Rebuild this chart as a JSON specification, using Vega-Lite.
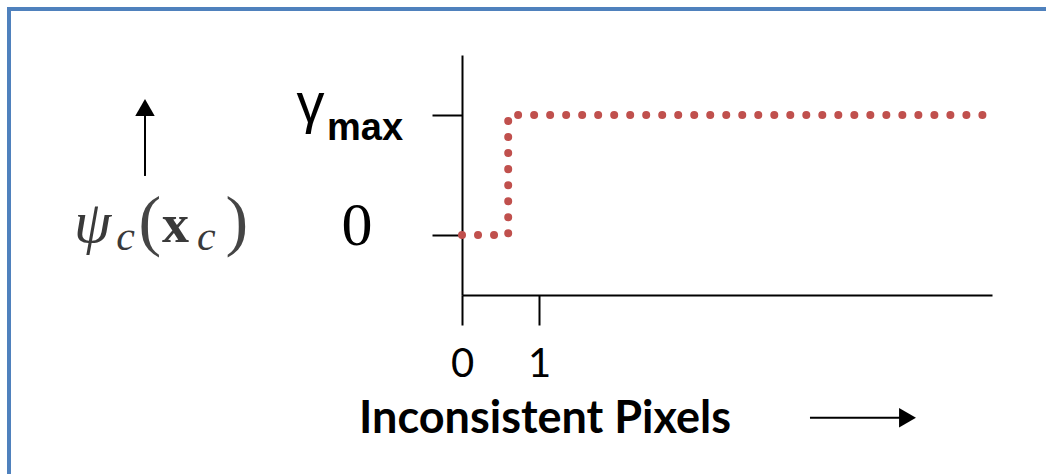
{
  "$schema": "https://vega.github.io/schema/vega-lite/v6.json",
  "width": 530,
  "height": 240,
  "autosize": "none",
  "padding": {"left": 462, "top": 55, "right": 54, "bottom": 179},
  "background": "white",
  "config": {"view": {"stroke": null}},
  "data": {"values": [{}]},
  "layer": [
    {
      "data": {"values": [
        {"pixels": 0, "psi": 0},
        {"pixels": 0.6, "psi": 1},
        {"pixels": 6.883, "psi": 1}
      ]},
      "mark": {"type": "line", "interpolate": "step-after", "color": "#C0504D", "strokeWidth": 8, "strokeDash": [0.01, 16], "strokeCap": "round"},
      "encoding": {
        "x": {
          "field": "pixels", "type": "quantitative",
          "scale": {"domain": [0, 6.883], "nice": false, "zero": false},
          "axis": {
            "values": [0, 1], "format": "d", "title": null, "grid": false,
            "domainColor": "black", "domainWidth": 2,
            "tickColor": "black", "tickWidth": 2, "tickSize": 30,
            "labelFont": "Lato", "labelFontSize": 40, "labelColor": "black",
            "labelPadding": 19, "labelFlush": false, "labelOverlap": false
          }
        },
        "y": {
          "field": "psi", "type": "quantitative",
          "scale": {"domain": [-0.5, 1.5], "nice": false, "zero": false},
          "axis": {
            "values": [0, 1], "labels": false, "title": null, "grid": false,
            "domainColor": "black", "domainWidth": 2,
            "tickColor": "black", "tickWidth": 2, "tickSize": 30
          }
        }
      }
    },
    {
      "mark": {"type": "rect", "fill": null, "stroke": "#4F81BD", "strokeWidth": 4, "clip": false},
      "encoding": {
        "x": {"datum": -5.883, "type": "quantitative"},
        "x2": {"datum": 7.77},
        "y": {"datum": 1.883, "type": "quantitative"},
        "y2": {"datum": -2.2}
      }
    },
    {
      "mark": {"type": "rule", "color": "black", "strokeWidth": 2},
      "encoding": {
        "x": {"datum": -4.117, "type": "quantitative"},
        "y": {"datum": 0.492, "type": "quantitative"},
        "y2": {"datum": 1.0}
      }
    },
    {
      "mark": {"type": "point", "shape": "triangle-up", "filled": true, "color": "black", "size": 380, "opacity": 1},
      "encoding": {
        "x": {"datum": -4.117, "type": "quantitative"},
        "y": {"datum": 1.0625, "type": "quantitative"}
      }
    },
    {
      "mark": {"type": "rule", "color": "black", "strokeWidth": 2},
      "encoding": {
        "x": {"datum": 4.519, "type": "quantitative"},
        "x2": {"datum": 5.714},
        "y": {"datum": -1.5225, "type": "quantitative"}
      }
    },
    {
      "mark": {"type": "point", "shape": "triangle-right", "filled": true, "color": "black", "size": 380, "opacity": 1},
      "encoding": {
        "x": {"datum": 5.786, "type": "quantitative"},
        "y": {"datum": -1.5225, "type": "quantitative"}
      }
    },
    {
      "mark": {"type": "text", "text": "Inconsistent Pixels", "font": "Lato", "fontWeight": "bold", "fontSize": 45, "color": "black", "align": "center", "baseline": "alphabetic"},
      "encoding": {
        "x": {"datum": 1.078, "type": "quantitative"},
        "y": {"datum": -1.65, "type": "quantitative"}
      }
    },
    {
      "mark": {"type": "text", "text": "0", "font": "Liberation Serif", "fontSize": 62, "color": "black", "align": "center", "baseline": "alphabetic"},
      "encoding": {
        "x": {"datum": -1.364, "type": "quantitative"},
        "y": {"datum": -0.083, "type": "quantitative"}
      }
    },
    {
      "mark": {"type": "text", "text": "γ", "font": "Liberation Sans", "fontSize": 56, "color": "black", "align": "left", "baseline": "alphabetic"},
      "encoding": {
        "x": {"datum": -2.15, "type": "quantitative"},
        "y": {"datum": 0.942, "type": "quantitative"}
      }
    },
    {
      "mark": {"type": "text", "text": "max", "font": "Liberation Sans Narrow, Liberation Sans", "fontWeight": "bold", "fontSize": 38, "color": "black", "align": "left", "baseline": "alphabetic"},
      "encoding": {
        "x": {"datum": -1.753, "type": "quantitative"},
        "y": {"datum": 0.792, "type": "quantitative"}
      }
    },
    {
      "mark": {"type": "text", "text": "ψ", "font": "Liberation Serif", "fontStyle": "italic", "fontSize": 60, "color": "#3a3a3a", "align": "left", "baseline": "alphabetic"},
      "encoding": {
        "x": {"datum": -5.04, "type": "quantitative"},
        "y": {"datum": -0.058, "type": "quantitative"}
      }
    },
    {
      "mark": {"type": "text", "text": "c", "font": "Liberation Serif", "fontStyle": "italic", "fontSize": 42, "color": "#3a3a3a", "align": "left", "baseline": "alphabetic"},
      "encoding": {
        "x": {"datum": -4.49, "type": "quantitative"},
        "y": {"datum": -0.125, "type": "quantitative"}
      }
    },
    {
      "mark": {"type": "text", "text": "(", "font": "Liberation Serif", "fontSize": 68, "color": "#454545", "align": "left", "baseline": "alphabetic"},
      "encoding": {
        "x": {"datum": -4.2, "type": "quantitative"},
        "y": {"datum": -0.07, "type": "quantitative"}
      }
    },
    {
      "mark": {"type": "text", "text": "x", "font": "Liberation Serif", "fontWeight": "bold", "fontSize": 54, "color": "#3a3a3a", "align": "left", "baseline": "alphabetic"},
      "encoding": {
        "x": {"datum": -3.895, "type": "quantitative"},
        "y": {"datum": -0.058, "type": "quantitative"}
      }
    },
    {
      "mark": {"type": "text", "text": "c", "font": "Liberation Serif", "fontStyle": "italic", "fontSize": 42, "color": "#3a3a3a", "align": "left", "baseline": "alphabetic"},
      "encoding": {
        "x": {"datum": -3.44, "type": "quantitative"},
        "y": {"datum": -0.125, "type": "quantitative"}
      }
    },
    {
      "mark": {"type": "text", "text": ")", "font": "Liberation Serif", "fontSize": 68, "color": "#454545", "align": "left", "baseline": "alphabetic"},
      "encoding": {
        "x": {"datum": -3.07, "type": "quantitative"},
        "y": {"datum": -0.07, "type": "quantitative"}
      }
    }
  ]
}
